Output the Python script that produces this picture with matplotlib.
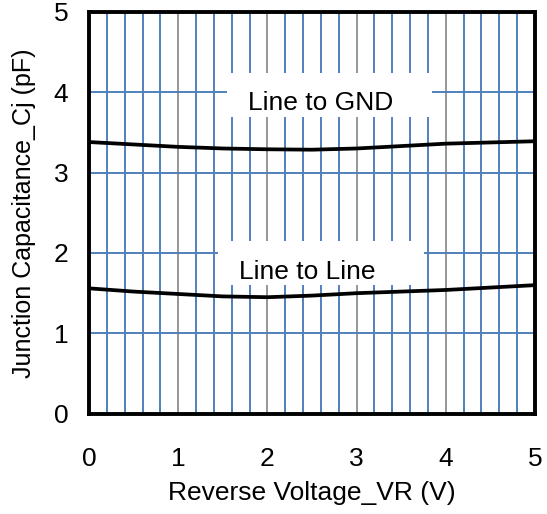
import matplotlib.pyplot as plt
from matplotlib.patches import Rectangle
from matplotlib.ticker import MultipleLocator

plt.rcParams['font.family'] = ['Liberation Sans', 'DejaVu Sans']

# data
vr = [0.0, 0.5, 1.0, 1.5, 2.0, 2.5, 3.0, 3.5, 4.0, 4.5, 5.0]
cj_gnd = [3.38, 3.35, 3.32, 3.30, 3.29, 3.285, 3.30, 3.33, 3.36, 3.375, 3.39]
cj_line = [1.56, 1.52, 1.49, 1.46, 1.45, 1.47, 1.50, 1.52, 1.54, 1.57, 1.60]

labels = ["Line to GND", "Line to Line"]
label_pos = [(2.60, 3.87), (2.45, 1.76)]
label_box = [(1.55, 3.69, 2.29, 0.55), (1.44, 1.60, 2.31, 0.55)]

blue = '#4F81BD'
fs = 19

fig = plt.figure(figsize=(5.47, 5.14), dpi=100)
ax = fig.add_axes([0.163, 0.195, 0.815, 0.782])

ax.set_xlim(0, 5)
ax.set_ylim(0, 5)
ax.xaxis.set_major_locator(MultipleLocator(1))
ax.xaxis.set_minor_locator(MultipleLocator(0.2))
ax.yaxis.set_major_locator(MultipleLocator(1))

ax.set_axisbelow(True)
ax.xaxis.grid(True, which='major', color='#969696', linewidth=1.4)
ax.xaxis.grid(True, which='minor', color=blue, linewidth=1.4)
ax.yaxis.grid(True, which='major', color=blue, linewidth=1.4)

ax.plot(vr, cj_gnd, color='black', linewidth=2.7, zorder=4)
ax.plot(vr, cj_line, color='black', linewidth=2.7, zorder=4)

for txt, (tx, ty), (bx, by, bw, bh) in zip(labels, label_pos, label_box):
    ax.add_patch(Rectangle((bx, by), bw, bh, facecolor='white',
                           edgecolor='none', zorder=3))
    ax.text(tx, ty, txt, ha='center', va='center', fontsize=fs, zorder=5)

for sp in ax.spines.values():
    sp.set_linewidth(2.8)
    sp.set_color('black')

ax.tick_params(which='both', length=0, labelsize=fs)
ax.tick_params(axis='x', pad=24)
ax.tick_params(axis='y', pad=15)

ax.set_xlabel("Reverse Voltage_VR (V)", fontsize=fs, labelpad=7)
ax.set_ylabel("Junction Capacitance_Cj (pF)", fontsize=18, labelpad=13)

fig.savefig("out.png", dpi=100)
